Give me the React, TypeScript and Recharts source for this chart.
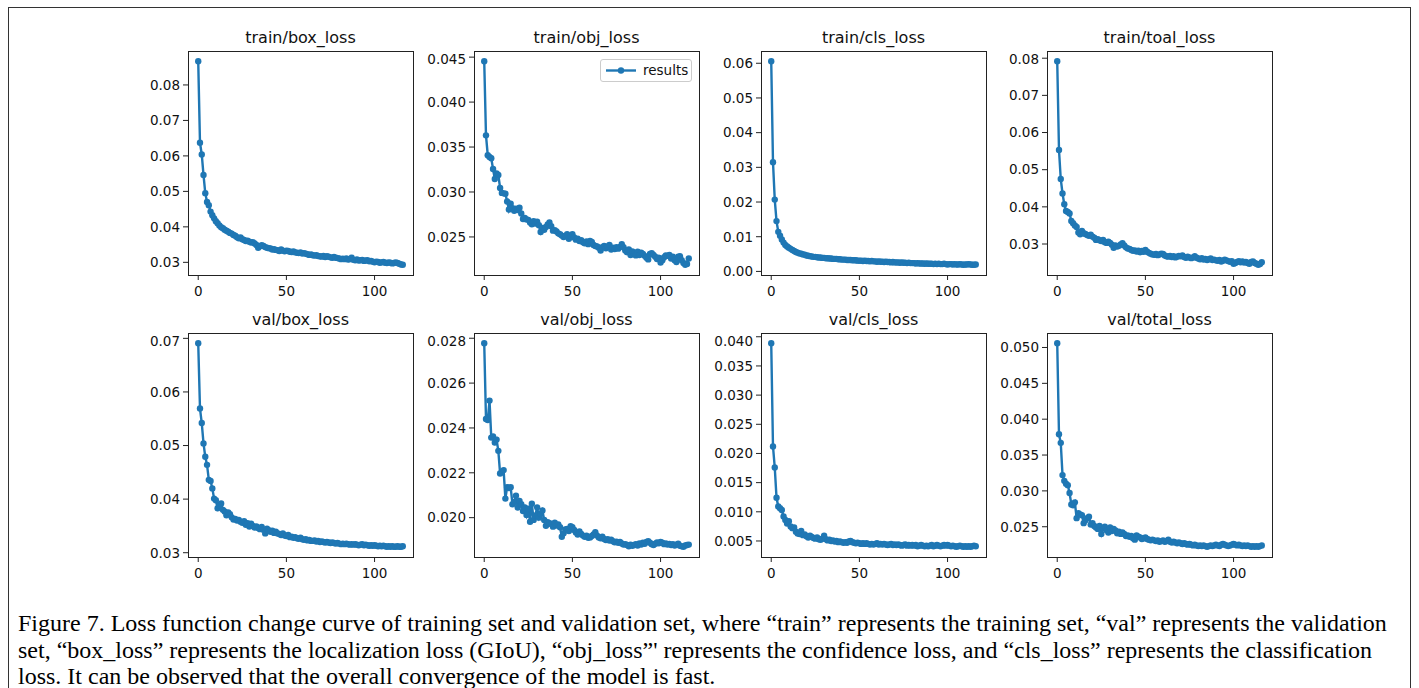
// Loss curves of training / validation set (Figure 7)
// 2x4 grid of small line charts, one per loss term, drawn with Recharts

import React from "react";
import { LineChart, Line, XAxis, YAxis } from "recharts";

const trainBox = [
  0.0867, 0.0637, 0.0604, 0.0546, 0.0495, 0.0470, 0.0461, 0.0443, 0.0433, 0.0424,
  0.0416, 0.0410, 0.0404, 0.0399, 0.0396, 0.0392, 0.0389, 0.0386, 0.0383, 0.0381,
  0.0377, 0.0375, 0.0371, 0.0368, 0.0370, 0.0365, 0.0363, 0.0360, 0.0361, 0.0358,
  0.0356, 0.0357, 0.0353, 0.0349, 0.0341, 0.0345, 0.0348, 0.0346, 0.0343, 0.0341,
  0.0340, 0.0339, 0.0336, 0.0337, 0.0335, 0.0334, 0.0332, 0.0336, 0.0333, 0.0331,
  0.0333, 0.0332, 0.0330, 0.0329, 0.0331, 0.0328, 0.0327, 0.0326, 0.0328, 0.0325,
  0.0326, 0.0324, 0.0323, 0.0321, 0.0322, 0.0320, 0.0319, 0.0320, 0.0318, 0.0317,
  0.0316, 0.0318, 0.0315, 0.0317, 0.0316, 0.0314, 0.0313, 0.0315, 0.0313, 0.0312,
  0.0311, 0.0309, 0.0310, 0.0309, 0.0311, 0.0308, 0.0309, 0.0313, 0.0307, 0.0306,
  0.0308, 0.0305, 0.0306, 0.0307, 0.0304, 0.0305, 0.0306, 0.0303, 0.0304, 0.0302,
  0.0300, 0.0302, 0.0301, 0.0299, 0.0300, 0.0301, 0.0299, 0.0298, 0.0300, 0.0299,
  0.0297, 0.0298, 0.0300, 0.0298, 0.0296, 0.0294, 0.0293,
];

const trainObj = [
  0.04455, 0.03630, 0.03410, 0.03390, 0.03375, 0.03255, 0.03145, 0.03205, 0.03190, 0.03045,
  0.02990, 0.02985, 0.02980, 0.02895, 0.02805, 0.02870, 0.02820, 0.02790, 0.02815, 0.02800,
  0.02825, 0.02760, 0.02700, 0.02710, 0.02695, 0.02690, 0.02660, 0.02640, 0.02675, 0.02650,
  0.02670, 0.02630, 0.02555, 0.02600, 0.02580, 0.02610, 0.02640, 0.02660, 0.02620, 0.02570,
  0.02575, 0.02560, 0.02540, 0.02530, 0.02515, 0.02500, 0.02510, 0.02530, 0.02480, 0.02505,
  0.02530, 0.02495, 0.02470, 0.02480, 0.02455, 0.02465, 0.02440, 0.02430, 0.02450, 0.02420,
  0.02455, 0.02445, 0.02410, 0.02400, 0.02395, 0.02380, 0.02350, 0.02385, 0.02400, 0.02375,
  0.02395, 0.02410, 0.02360, 0.02380, 0.02365, 0.02385, 0.02370, 0.02390, 0.02420, 0.02385,
  0.02350, 0.02330, 0.02360, 0.02300, 0.02340, 0.02310, 0.02295, 0.02335, 0.02300, 0.02325,
  0.02310, 0.02290, 0.02270, 0.02250, 0.02310, 0.02320, 0.02300, 0.02280, 0.02255, 0.02270,
  0.02215, 0.02240, 0.02275, 0.02295, 0.02290, 0.02300, 0.02260, 0.02280, 0.02240, 0.02220,
  0.02280, 0.02285, 0.02240, 0.02210, 0.02190, 0.02200, 0.02260,
];

const trainCls = [
  0.0606, 0.0315, 0.0207, 0.0145, 0.0114, 0.0103, 0.0092, 0.0083, 0.0076, 0.0072,
  0.0068, 0.0065, 0.0062, 0.0059, 0.0056, 0.0054, 0.0052, 0.0051, 0.0049, 0.0048,
  0.0046, 0.0045, 0.0044, 0.0043, 0.0042, 0.0042, 0.0041, 0.0040, 0.0040, 0.0039,
  0.0039, 0.0038, 0.0038, 0.0037, 0.0037, 0.0036, 0.0036, 0.0036, 0.0035, 0.0035,
  0.0034, 0.0034, 0.0034, 0.0033, 0.0033, 0.0033, 0.0032, 0.0032, 0.0032, 0.0031,
  0.0031, 0.0031, 0.0030, 0.0031, 0.0030, 0.0030, 0.0029, 0.0030, 0.0029, 0.0029,
  0.0028, 0.0029, 0.0028, 0.0028, 0.0027, 0.0028, 0.0027, 0.0027, 0.0026, 0.0027,
  0.0026, 0.0026, 0.0026, 0.0025, 0.0026, 0.0025, 0.0025, 0.0024, 0.0025, 0.0024,
  0.0024, 0.0024, 0.0023, 0.0024, 0.0023, 0.0023, 0.0023, 0.0022, 0.0023, 0.0022,
  0.0022, 0.0022, 0.0021, 0.0022, 0.0021, 0.0022, 0.0021, 0.0021, 0.0022, 0.0021,
  0.0020, 0.0021, 0.0021, 0.0020, 0.0021, 0.0020, 0.0020, 0.0021, 0.0020, 0.0019,
  0.0020, 0.0020, 0.0021, 0.0020, 0.0019, 0.0019, 0.0020,
];

const trainTotal = [
  0.0792, 0.0553, 0.0475, 0.0436, 0.0407, 0.0389, 0.0386, 0.0382, 0.0362, 0.0356,
  0.0350, 0.0346, 0.0331, 0.0326, 0.0335, 0.0329, 0.0327, 0.0324, 0.0322, 0.0325,
  0.0320, 0.0317, 0.0311, 0.0313, 0.0310, 0.0308, 0.0311, 0.0305, 0.0303, 0.0306,
  0.0303, 0.0298, 0.0290, 0.0296, 0.0293, 0.0295, 0.0299, 0.0302, 0.0296, 0.0291,
  0.0288, 0.0287, 0.0284, 0.0282, 0.0283, 0.0280, 0.0282, 0.0278, 0.0281, 0.0279,
  0.0284, 0.0279, 0.0276, 0.0274, 0.0272, 0.0271, 0.0273, 0.0270, 0.0272, 0.0274,
  0.0273, 0.0269, 0.0267, 0.0266, 0.0268, 0.0265, 0.0267, 0.0264, 0.0266, 0.0268,
  0.0267, 0.0269, 0.0265, 0.0263, 0.0266, 0.0264, 0.0262, 0.0264, 0.0267, 0.0263,
  0.0261, 0.0259, 0.0262, 0.0258, 0.0260, 0.0257, 0.0259, 0.0261, 0.0257, 0.0258,
  0.0256, 0.0255, 0.0257, 0.0253, 0.0255, 0.0258, 0.0256, 0.0254, 0.0252, 0.0254,
  0.0247, 0.0249, 0.0252, 0.0254, 0.0251, 0.0253, 0.0250, 0.0252, 0.0249, 0.0247,
  0.0252, 0.0253, 0.0249, 0.0247, 0.0244, 0.0246, 0.0251,
];

const valBox = [
  0.0691, 0.0569, 0.0542, 0.0504, 0.0479, 0.0464, 0.0436, 0.0434, 0.0420, 0.0401,
  0.0398, 0.0383, 0.0389, 0.0392, 0.0380, 0.0377, 0.0370, 0.0375, 0.0372, 0.0366,
  0.0362, 0.0363, 0.0360, 0.0361, 0.0358, 0.0356, 0.0359, 0.0352, 0.0355, 0.0349,
  0.0354, 0.0350, 0.0347, 0.0349, 0.0346, 0.0344, 0.0348, 0.0343, 0.0336, 0.0345,
  0.0342, 0.0339, 0.0341, 0.0337, 0.0339, 0.0336, 0.0335, 0.0333, 0.0336, 0.0332,
  0.0331, 0.0333, 0.0329, 0.0330, 0.0328, 0.0329, 0.0327, 0.0326, 0.0328, 0.0325,
  0.0324, 0.0325, 0.0323, 0.0324, 0.0322, 0.0322, 0.0323, 0.0321, 0.0322, 0.0320,
  0.0321, 0.0320, 0.0319, 0.0320, 0.0319, 0.0318, 0.0319, 0.0318, 0.0317, 0.0318,
  0.0317, 0.0316, 0.0317, 0.0316, 0.0317, 0.0316, 0.0315, 0.0316, 0.0315, 0.0316,
  0.0315, 0.0314, 0.0315, 0.0316, 0.0314, 0.0315, 0.0314, 0.0313, 0.0314, 0.0313,
  0.0314, 0.0313, 0.0312, 0.0313, 0.0312, 0.0313, 0.0312, 0.0311, 0.0312, 0.0311,
  0.0312, 0.0311, 0.0311, 0.0312, 0.0311, 0.0311, 0.0312,
];

const valObj = [
  0.02778, 0.02440, 0.02435, 0.02522, 0.02357, 0.02362, 0.02335, 0.02348, 0.02298, 0.02197,
  0.02203, 0.02212, 0.02085, 0.02136, 0.02132, 0.02136, 0.02060, 0.02070, 0.02098, 0.02045,
  0.02075, 0.02060, 0.02030, 0.02045, 0.02012, 0.02040, 0.01982, 0.02062, 0.01990, 0.02010,
  0.02046, 0.02000, 0.02016, 0.02032, 0.01990, 0.01964, 0.01980, 0.01975, 0.01972, 0.01960,
  0.01978, 0.01965, 0.01970, 0.01957, 0.01915, 0.01930, 0.01948, 0.01950, 0.01940, 0.01962,
  0.01957, 0.01945, 0.01934, 0.01925, 0.01938, 0.01927, 0.01920, 0.01915, 0.01920, 0.01910,
  0.01912, 0.01918, 0.01925, 0.01935, 0.01920, 0.01912, 0.01908, 0.01915, 0.01905, 0.01900,
  0.01904, 0.01898, 0.01902, 0.01895, 0.01890, 0.01893, 0.01888, 0.01892, 0.01885, 0.01880,
  0.01882, 0.01878, 0.01872, 0.01880, 0.01875, 0.01878, 0.01882, 0.01876, 0.01885, 0.01880,
  0.01888, 0.01884, 0.01892, 0.01895, 0.01888, 0.01882, 0.01878, 0.01884, 0.01890, 0.01886,
  0.01892, 0.01888, 0.01882, 0.01885, 0.01880, 0.01883, 0.01878, 0.01882, 0.01876, 0.01880,
  0.01884, 0.01875, 0.01872, 0.01870, 0.01876, 0.01878, 0.01880,
];

const valCls = [
  0.0389, 0.0212, 0.0176, 0.0124, 0.0109, 0.0106, 0.0103, 0.0092, 0.0086, 0.0080,
  0.0084, 0.0075, 0.0072, 0.0073, 0.0066, 0.0063, 0.0062, 0.0067, 0.0060, 0.0061,
  0.0058, 0.0056, 0.0059, 0.0057, 0.0055, 0.0054, 0.0056, 0.0053, 0.0052, 0.0054,
  0.0059, 0.0053, 0.0051, 0.0052, 0.0050, 0.0051, 0.0049, 0.0050, 0.0048, 0.0049,
  0.0048, 0.0047, 0.0048, 0.0047, 0.0049, 0.0050, 0.0048, 0.0047, 0.0046, 0.0047,
  0.0046, 0.0045, 0.0046, 0.0045, 0.0046, 0.0045, 0.0044, 0.0045, 0.0044, 0.0045,
  0.0046, 0.0044, 0.0045, 0.0044, 0.0045, 0.0044, 0.0043, 0.0044, 0.0045, 0.0043,
  0.0044, 0.0043, 0.0044, 0.0043, 0.0042, 0.0043, 0.0044, 0.0042, 0.0043, 0.0042,
  0.0043, 0.0042, 0.0043, 0.0041, 0.0042, 0.0043, 0.0042, 0.0041, 0.0042, 0.0041,
  0.0042, 0.0043, 0.0041, 0.0042, 0.0043, 0.0042, 0.0041, 0.0042, 0.0043, 0.0042,
  0.0043, 0.0042, 0.0041, 0.0042, 0.0041, 0.0040, 0.0041, 0.0042, 0.0041, 0.0040,
  0.0041, 0.0040, 0.0041, 0.0040, 0.0041, 0.0042, 0.0041,
];

const valTotal = [
  0.0506, 0.0379, 0.0367, 0.0322, 0.0314, 0.0310, 0.0308, 0.0297, 0.0281, 0.0280,
  0.0284, 0.0262, 0.0269, 0.0267, 0.0266, 0.0255, 0.0259, 0.0262, 0.0264, 0.0253,
  0.0255, 0.0251, 0.0249, 0.0247, 0.0251, 0.0240, 0.0248, 0.0250, 0.0245, 0.0242,
  0.0249, 0.0244, 0.0247, 0.0245, 0.0241, 0.0243, 0.0240, 0.0242, 0.0240, 0.0237,
  0.0238, 0.0236, 0.0237, 0.0234, 0.0232, 0.0238, 0.0236, 0.0235, 0.0233, 0.0234,
  0.0235, 0.0233, 0.0232, 0.0231, 0.0232, 0.0231, 0.0230, 0.0231, 0.0229, 0.0230,
  0.0231, 0.0229, 0.0230, 0.0232, 0.0229, 0.0228, 0.0229, 0.0228, 0.0227, 0.0228,
  0.0227, 0.0226, 0.0227, 0.0226, 0.0225, 0.0226, 0.0225, 0.0224, 0.0225, 0.0224,
  0.0223, 0.0224, 0.0223, 0.0224, 0.0223, 0.0222, 0.0223, 0.0224, 0.0223, 0.0224,
  0.0225, 0.0224, 0.0223, 0.0225, 0.0226, 0.0225, 0.0224, 0.0223, 0.0224, 0.0225,
  0.0226, 0.0225, 0.0224, 0.0225, 0.0224, 0.0223, 0.0224, 0.0223, 0.0224, 0.0223,
  0.0222, 0.0223, 0.0222, 0.0223, 0.0222, 0.0223, 0.0224,
];

// tick labels
const xTicks = [0, 50, 100];
const trainBoxTicks = [0.03, 0.04, 0.05, 0.06, 0.07, 0.08];
const trainObjTicks = [0.025, 0.03, 0.035, 0.04, 0.045];
const trainClsTicks = [0, 0.01, 0.02, 0.03, 0.04, 0.05, 0.06];
const trainTotalTicks = [0.03, 0.04, 0.05, 0.06, 0.07, 0.08];
const valBoxTicks = [0.03, 0.04, 0.05, 0.06, 0.07];
const valObjTicks = [0.02, 0.022, 0.024, 0.026, 0.028];
const valClsTicks = [0.005, 0.01, 0.015, 0.02, 0.025, 0.03, 0.035, 0.04];
const valTotalTicks = [0.025, 0.03, 0.035, 0.04, 0.045, 0.05];

const BLUE = "#1f77b4";
const FONT = "'DejaVu Sans', sans-serif";
const PW = 225; // plot area width
const PH = 224; // plot area height
const YW = 70; // room for y tick labels
const XH = 32; // room for x tick labels

interface PanelProps {
  title: string;
  values: number[];
  ticks: number[];
  decimals: number;
  left: number;
  top: number;
  legend?: boolean;
}

function Panel({ title, values, ticks, decimals, left, top, legend }: PanelProps) {
  const rows = values.map((v, i) => ({ epoch: i, results: v }));
  const n = values.length - 1;
  // matplotlib style 5% margins
  const lo = Math.min(...values);
  const hi = Math.max(...values);
  const pad = (hi - lo) * 0.05;

  return (
    <>
      <div
        style={{
          position: "absolute",
          left,
          top: top - 23,
          width: PW,
          height: 20,
          lineHeight: "20px",
          textAlign: "center",
          fontFamily: FONT,
          fontSize: 16,
          color: "#111",
        }}
      >
        {title}
      </div>
      <div style={{ position: "absolute", left: left - YW, top }}>
        <LineChart width={YW + PW} height={PH + XH} data={rows} margin={{ top: 0, right: 0, bottom: 0, left: 0 }}>
          <XAxis
            dataKey="epoch"
            type="number"
            domain={[-n * 0.05, n * 1.05]}
            ticks={xTicks}
            height={XH}
            axisLine={false}
            tickSize={5}
            tickMargin={6}
            tickLine={{ stroke: "#222" }}
            tick={{ fontSize: 13.5, fill: "#111", fontFamily: FONT }}
          />
          <YAxis
            type="number"
            domain={[lo - pad, hi + pad]}
            ticks={ticks}
            width={YW}
            axisLine={false}
            tickSize={5}
            tickMargin={3}
            tickLine={{ stroke: "#222" }}
            tick={{ fontSize: 13.5, fill: "#111", fontFamily: FONT }}
            tickFormatter={(v: number) => v.toFixed(decimals)}
          />
          <Line
            type="linear"
            dataKey="results"
            stroke={BLUE}
            strokeWidth={2.4}
            dot={{ r: 3.2, fill: BLUE, stroke: BLUE, strokeWidth: 0 }}
            isAnimationActive={false}
          />
        </LineChart>
      </div>
      {/* axes frame */}
      <div
        style={{
          position: "absolute",
          left: left - 0.5,
          top: top - 0.5,
          width: PW + 1,
          height: PH + 1,
          border: "1px solid #222",
          boxSizing: "border-box",
          pointerEvents: "none",
        }}
      />
      {legend && (
        <div
          style={{
            position: "absolute",
            left: left + PW - 99,
            top: top + 8,
            width: 92,
            height: 23,
            border: "1px solid #cccccc",
            borderRadius: 3,
            background: "rgba(255,255,255,0.8)",
            boxSizing: "border-box",
            fontFamily: FONT,
            fontSize: 13.5,
            color: "#111",
          }}
        >
          <svg width={40} height={21} style={{ position: "absolute", left: 2, top: 0 }}>
            <line x1={3} y1={10.5} x2={33} y2={10.5} stroke={BLUE} strokeWidth={2.4} />
            <circle cx={18} cy={10.5} r={3.2} fill={BLUE} />
          </svg>
          <span style={{ position: "absolute", left: 42, top: 2, lineHeight: "17px" }}>results</span>
        </div>
      )}
    </>
  );
}

const captionLines = [
  "Figure 7. Loss function change curve of training set and validation set, where \u201ctrain\u201d represents the training set, \u201cval\u201d represents the validation",
  "set, \u201cbox_loss\u201d represents the localization loss (GIoU), \u201cobj_loss\u201d' represents the confidence loss, and \u201ccls_loss\u201d represents the classification",
  "loss. It can be observed that the overall convergence of the model is fast.",
];

const COLS = [188, 474, 761, 1047];
const ROWS = [51, 333];

export default function App() {
  return (
    <div
      style={{
        position: "absolute",
        left: 0,
        top: 0,
        width: 1419,
        height: 688,
        overflow: "hidden",
        background: "#fff",
      }}
    >
      <div
        style={{
          position: "absolute",
          left: 8,
          top: 7,
          width: 1403,
          height: 720,
          border: "1px solid #333",
          boxSizing: "border-box",
        }}
      />
      <Panel title="train/box_loss" values={trainBox} ticks={trainBoxTicks} decimals={2} left={COLS[0]} top={ROWS[0]} />
      <Panel title="train/obj_loss" values={trainObj} ticks={trainObjTicks} decimals={3} left={COLS[1]} top={ROWS[0]} legend />
      <Panel title="train/cls_loss" values={trainCls} ticks={trainClsTicks} decimals={2} left={COLS[2]} top={ROWS[0]} />
      <Panel title="train/toal_loss" values={trainTotal} ticks={trainTotalTicks} decimals={2} left={COLS[3]} top={ROWS[0]} />
      <Panel title="val/box_loss" values={valBox} ticks={valBoxTicks} decimals={2} left={COLS[0]} top={ROWS[1]} />
      <Panel title="val/obj_loss" values={valObj} ticks={valObjTicks} decimals={3} left={COLS[1]} top={ROWS[1]} />
      <Panel title="val/cls_loss" values={valCls} ticks={valClsTicks} decimals={3} left={COLS[2]} top={ROWS[1]} />
      <Panel title="val/total_loss" values={valTotal} ticks={valTotalTicks} decimals={3} left={COLS[3]} top={ROWS[1]} />
      {captionLines.map((line, i) => (
        <div
          key={i}
          style={{
            position: "absolute",
            left: 18,
            top: 610 + i * 26.5,
            lineHeight: "26px",
            whiteSpace: "nowrap",
            fontFamily: "'Liberation Serif', 'Times New Roman', serif",
            fontSize: 24,
            color: "#000",
          }}
        >
          {line}
        </div>
      ))}
    </div>
  );
}
